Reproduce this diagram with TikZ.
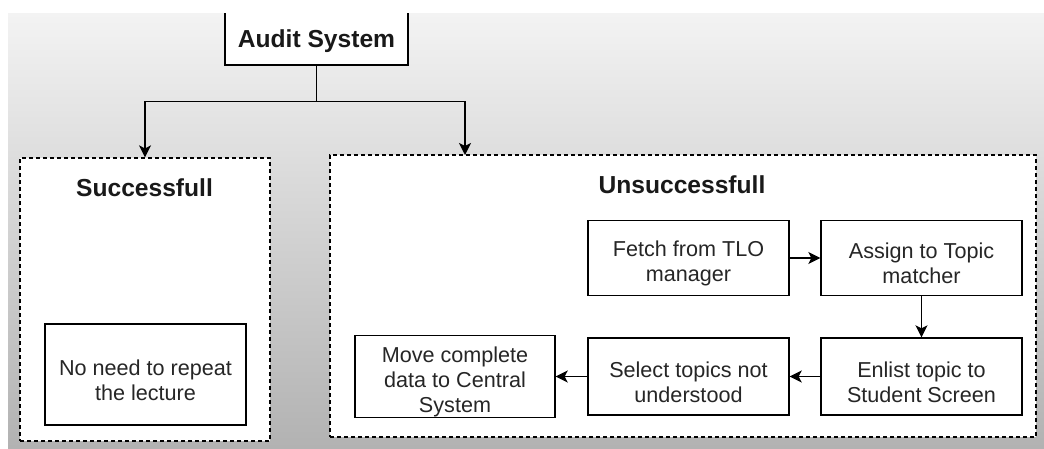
\documentclass[tikz,border=0pt]{standalone}
\usepackage{fontspec}
\setmainfont{Liberation Sans}
\usetikzlibrary{arrows.meta}
\definecolor{bgtop}{HTML}{F3F3F3}
\definecolor{bgbottom}{HTML}{B2B2B2}
\tikzset{
	stepbox/.style={draw, fill=white, line width=1.4pt, minimum width=201pt, minimum height=77pt, inner sep=0pt, align=center, text height=52pt, text=black!85, font=\fontsize{21.6}{25}\selectfont},
	headbox/.style={draw, fill=white, line width=1.4pt, minimum width=183pt, minimum height=53pt, inner sep=0pt, text=black!90, text depth=0pt, font=\bfseries\fontsize{24.6}{28}\selectfont},
	groupbox/.style={draw, fill=white, line width=1.2pt, dash pattern=on 4pt off 3pt, inner sep=0pt},
	titletext/.style={text=black!90, text depth=0pt, font=\bfseries\fontsize{24.6}{28}\selectfont},
	wire/.style={line width=1.4pt},
	flow/.style={line width=1.4pt, -{Stealth[length=12pt, width=12pt, inset=3pt]}}
}
\begin{document}
\begin{tikzpicture}[x=1pt, y=-1pt]
			%%%%% BACKGROUND %%%%%
			\useasboundingbox (0,0) rectangle (1044,448);
			\shade[top color=bgtop, bottom color=bgbottom] (8,13) rectangle (1044,448);
			
			%%%%% TOP %%%%%
			\node[headbox] (audit) at (316.5,38.5) {Audit System};
			\fill[white] (0,0) rectangle (1044,12.6);
			
			%%%%% GROUPS %%%%%
			\node[groupbox, minimum width=250pt, minimum height=283pt] (succ) at (145,299.5) {};
			\node[groupbox, minimum width=706pt, minimum height=282pt] (unsucc) at (683,296) {};
			\node[titletext] (succtitle) at (144.5,187.5) {Successfull};
			\node[titletext] (unsucctitle) at (682,185) {Unsuccessfull};
			
			%%%%% STEPS %%%%%
			\node[stepbox, minimum height=101pt] (norepeat) at (145.5,374.5) {No need to repeat\\the lecture};
			
			\node[stepbox, minimum height=75pt] (fetch) at (688.5,258) {Fetch from TLO\\manager};
			\node[stepbox, minimum height=75pt] (assign) at (921.5,258) {Assign to Topic\\matcher};
			\node[stepbox] (enlist) at (921.5,376.5) {Enlist topic to\\Student Screen};
			\node[stepbox] (select) at (688.5,376.5) {Select topics not\\understood};
			\node[stepbox, minimum width=200pt, text height=77pt] (move) at (455,376.5) {Move complete\\data to Central\\System};
			
			%%%%% CONNECTORS %%%%%
			\coordinate (fork) at (316.5,101.5);
			\coordinate (unsuccin) at (465,155);
			\draw[wire] (audit.south) -- (fork);
			\draw[flow] (fork) -| (succ.north);
			\draw[flow] (fork) -| (unsuccin);
			
			\draw[flow] (fetch) -- (assign);
			\draw[flow] (assign) -- (enlist);
			\draw[flow] (enlist) -- (select);
			\draw[flow] (select) -- (move);
			
			%%%%% END %%%%%
\end{tikzpicture}
\end{document}
